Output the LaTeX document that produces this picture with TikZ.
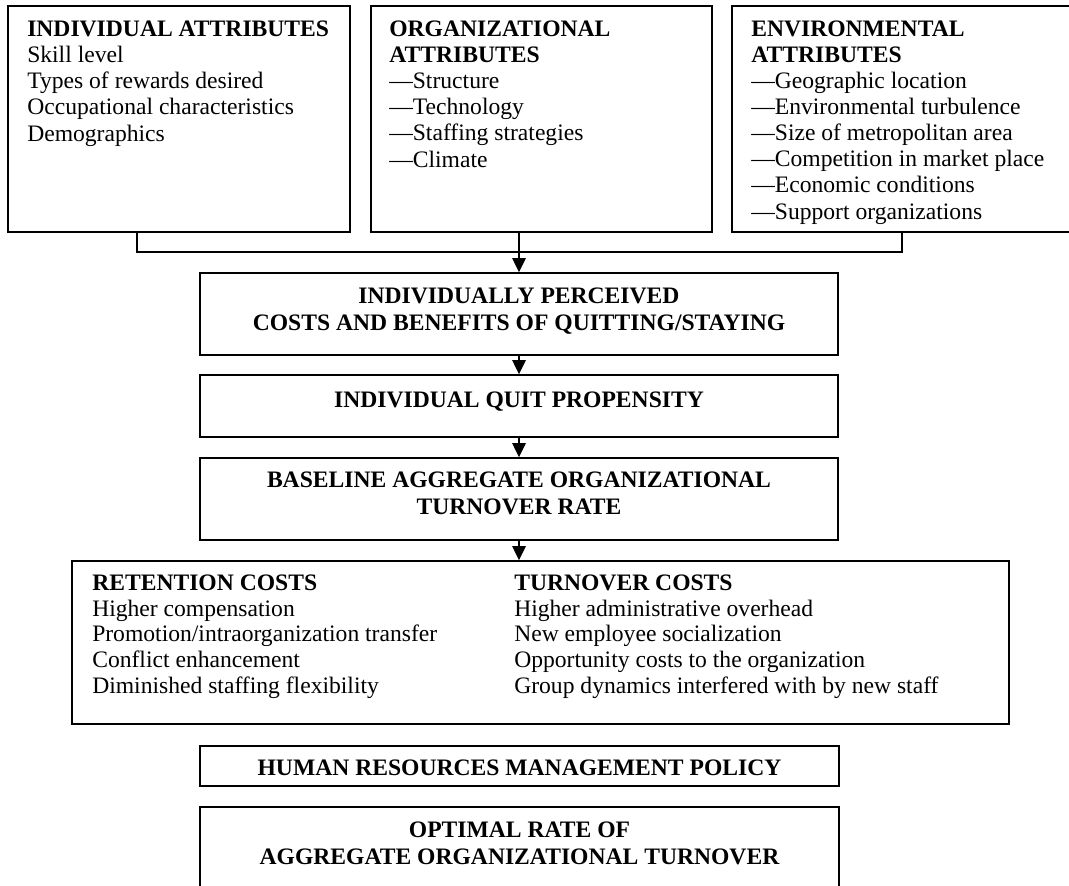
\documentclass[tikz,border=0pt]{standalone}
\usepackage{fontspec}
\setmainfont{Liberation Serif}
\usetikzlibrary{fit,arrows.meta}
\tikzset{
  box/.style={draw, line width=1.2pt, inner sep=0pt},
  txt/.style={inner sep=0pt, align=left, anchor=base west},
  ctxt/.style={inner sep=0pt, align=center, anchor=base, font={\fontsize{17.7}{19.6}\selectfont\bfseries}},
  arr/.style={line width=1.2pt, -{Triangle[width=10pt,length=10.5pt]}},
  conn/.style={line width=1.2pt}
}
\begin{document}
\begin{tikzpicture}[x=0.75pt,y=-0.75pt,font=\fontsize{17.7}{19.6}\selectfont]
\useasboundingbox (0,0) rectangle (1069,885);
\clip (0,0) rectangle (1069,885);
% top boxes
\node[box, fit={(8,6) (350,232)}] (b1) {};
\node[box, fit={(371,6) (712,232)}] (b2) {};
\node[box, fit={(732,6) (1100,232)}] (b3) {};
% (base anchor of a multi-line node = baseline of its last line)
\node[txt] (t1) at (27,141) {\textbf{INDIVIDUAL ATTRIBUTES}\\Skill level\\Types of rewards desired\\Occupational characteristics\\Demographics};
\node[txt] (t2) at (389,167) {\textbf{ORGANIZATIONAL}\\\textbf{ATTRIBUTES}\\---Structure\\---Technology\\---Staffing strategies\\---Climate};
\node[txt] (t3) at (751,219) {\textbf{ENVIRONMENTAL}\\\textbf{ATTRIBUTES}\\---Geographic location\\---Environmental turbulence\\---Size of metropolitan area\\---Competition in market place\\---Economic conditions\\---Support organizations};
% middle boxes
\node[box, fit={(200,273) (838,355)}] (p) {};
\node[ctxt] (tp) at (519,330) {INDIVIDUALLY PERCEIVED\\COSTS AND BENEFITS OF QUITTING/STAYING};
\node[box, fit={(200,375) (838,437)}] (q) {};
\node[ctxt] (tq) at (519,407) {INDIVIDUAL QUIT PROPENSITY};
\node[box, fit={(200,458) (838,540)}] (r) {};
\node[ctxt] (tr) at (519,514) {BASELINE AGGREGATE ORGANIZATIONAL\\TURNOVER RATE};
% costs box
\node[box, fit={(72,561) (1009,724)}] (c) {};
\node[txt, font=\fontsize{17.7}{19.2}\selectfont] (tc1) at (92,693) {\textbf{RETENTION COSTS}\\Higher compensation\\Promotion/intraorganization transfer\\Conflict enhancement\\Diminished staffing flexibility};
\node[txt, font=\fontsize{17.7}{19.2}\selectfont] (tc2) at (514,693) {\textbf{TURNOVER COSTS}\\Higher administrative overhead\\New employee socialization\\Opportunity costs to the organization\\Group dynamics interfered with by new staff};
% bottom boxes
\node[box, fit={(200,746) (839,786)}] (h) {};
\node[ctxt] (th) at (519.5,775) {HUMAN RESOURCES MANAGEMENT POLICY};
\node[box, fit={(200,807) (839,940)}] (o) {};
\node[ctxt] (to) at (519.5,864) {OPTIMAL RATE OF\\AGGREGATE ORGANIZATIONAL TURNOVER};
% connectors
\coordinate (j1) at (137,252);
\coordinate (j2) at (902,252);
\draw[conn] (b1.south -| j1) -- (j1) -- (j2) -- (b3.south -| j2);
\draw[arr] (b2.south -| p.north) -- (p.north);
\draw[arr] (p.south) -- (q.north);
\draw[arr] (q.south) -- (r.north);
\draw[arr] (r.south) -- (c.north -| r.south);
\end{tikzpicture}
\end{document}
